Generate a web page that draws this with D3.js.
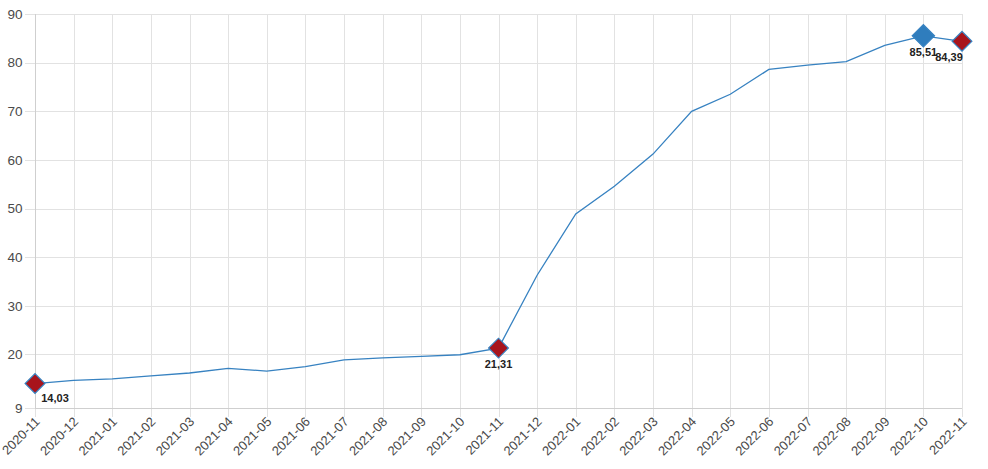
<!DOCTYPE html>
<html>
<head>
<meta charset="utf-8">
<script src="https://cdn.jsdelivr.net/npm/d3@7"></script>
<style>
  body { margin: 0; background: #fff; }
  svg { display: block; font-family: "Open Sans", "Noto Sans", sans-serif; }
  .grid line { stroke: #e2e2e2; stroke-width: 1; }
  .axis path, .axis line { stroke: #cfcfcf; }
  .axis text { fill: #4a4a4a; }
</style>
</head>
<body>
<svg width="988" height="469"></svg>
<script>
var months = ["2020-11","2020-12","2021-01","2021-02","2021-03","2021-04","2021-05","2021-06",
  "2021-07","2021-08","2021-09","2021-10","2021-11","2021-12","2022-01","2022-02","2022-03",
  "2022-04","2022-05","2022-06","2022-07","2022-08","2022-09","2022-10","2022-11"];
var values = [14.03, 14.7, 15.0, 15.6, 16.2, 17.15, 16.6, 17.5, 18.9, 19.3, 19.6, 19.95, 21.31,
  36.3, 48.9, 54.6, 61.2, 70.0, 73.5, 78.6, 79.5, 80.2, 83.55, 85.51, 84.39];
var yTicks = [9, 20, 30, 40, 50, 60, 70, 80, 90];
// highlighted points: index, kind
var marks = [
  { i: 0, kind: "low" },
  { i: 12, kind: "low" },
  { i: 23, kind: "high" },
  { i: 24, kind: "low" }
];

var svg = d3.select("svg");
var padL = 35, padR = 962, padT = 14, padB = 408;

var x = d3.scalePoint().domain(months).range([padL, padR]);
var y = d3.scaleLinear().domain([9, 90]).range([padB, padT]);

// grid
var grid = svg.append("g").attr("class", "grid");
grid.selectAll("line.h").data(yTicks).enter().append("line")
  .attr("class", "h")
  .attr("x1", padL - 10).attr("x2", padR)
  .attr("y1", function(d) { return Math.round(y(d)) + 0.5; })
  .attr("y2", function(d) { return Math.round(y(d)) + 0.5; });
grid.selectAll("line.v").data(months).enter().append("line")
  .attr("class", "v")
  .attr("x1", function(d) { return Math.round(x(d)) + 0.5; })
  .attr("x2", function(d) { return Math.round(x(d)) + 0.5; })
  .attr("y1", padT).attr("y2", padB + 9);

// y axis
var yAxis = svg.append("g").attr("class", "axis")
  .attr("transform", "translate(" + (padL + 0.5) + ",0)")
  .call(d3.axisLeft(y).tickValues(yTicks).tickSize(0).tickPadding(13));
yAxis.select(".domain").attr("d", "M0," + padT + "V" + padB).attr("stroke", "#c8c8c8");
yAxis.selectAll("text").style("font-size", "13.5px");

// x axis
var xAxis = svg.append("g").attr("class", "axis")
  .attr("transform", "translate(0," + (padB + 0.5) + ")")
  .call(d3.axisBottom(x).tickSize(0).tickPadding(0));
xAxis.select(".domain").attr("d", "M" + padL + ",0H" + padR).attr("stroke", "#c8c8c8");
xAxis.selectAll("text")
  .style("font-size", "13px")
  .style("text-anchor", "end")
  .attr("dy", null)
  .attr("y", 0)
  .attr("transform", "translate(5,14) rotate(-45)");

// line
var line = d3.line()
  .x(function(d, i) { return x(months[i]); })
  .y(function(d) { return y(d); });

svg.append("path")
  .datum(values)
  .attr("fill", "none")
  .attr("stroke", "#3782c1")
  .attr("stroke-width", 1.3)
  .attr("d", line);

// markers
svg.selectAll("path.mk").data(marks).enter().append("path")
  .attr("class", "mk")
  .attr("d", function(d) {
    return d3.symbol().type(d3.symbolSquare).size(d.kind == "high" ? 250 : 195)();
  })
  .attr("transform", function(d) {
    return "translate(" + x(months[d.i]) + "," + y(values[d.i]) + ") rotate(45)";
  })
  .attr("fill", function(d) { return d.kind == "high" ? "#2f7dbd" : "#a8141c"; })
  .attr("stroke", "#3782c1")
  .attr("stroke-width", 1.2);

// labels
var labelOff = [[20, 18], [0, 20], [0, 20], [-13, 20]];
svg.selectAll("text.lbl").data(marks).enter().append("text")
  .attr("class", "lbl")
  .attr("x", function(d, k) { return x(months[d.i]) + labelOff[k][0]; })
  .attr("y", function(d, k) { return y(values[d.i]) + labelOff[k][1]; })
  .attr("text-anchor", "middle")
  .style("font-size", "11px")
  .style("font-weight", "bold")
  .style("font-family", "'Liberation Sans', Arial, sans-serif")
  .attr("fill", "#222")
  .text(function(d) { return values[d.i].toFixed(2).replace(".", ","); });
</script>
</body>
</html>
